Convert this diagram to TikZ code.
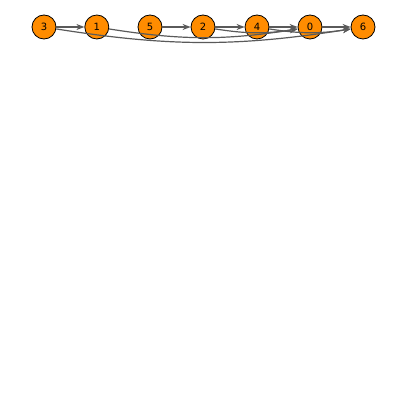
\documentclass[tikz,border=0pt]{standalone}
\usepackage{fontspec}
\setmainfont{DejaVu Sans}
\usetikzlibrary{arrows.meta, positioning}
\definecolor{NodeOrange}{RGB}{255, 140, 0}
\definecolor{EdgeGray}{RGB}{90, 90, 90}
\tikzset{
  vertex/.style={circle, draw=black, thick, fill=NodeOrange, minimum size=24pt, inner sep=0pt, font=\fontsize{10}{12}\selectfont},
  edge/.style={-{Stealth[length=8pt, width=6pt]}, EdgeGray, line width=1.2pt}
}
\begin{document}
\begin{tikzpicture}[x=1pt, y=1pt]
        \useasboundingbox (0,0) rectangle (407,405);
        \node[vertex] (n3) at (44,378) {3};
        \node[vertex, right=28pt of n3] (n1) {1};
        \node[vertex] (n5) at (150,378) {5};
        \node[vertex] (n2) at (203,378) {2};
        \node[vertex] (n4) at (257,378) {4};
        \node[vertex] (n0) at (310,378) {0};
        \node[vertex] (n6) at (363,378) {6};
        \draw[edge] (n3) -- (n1);
        \draw[edge] (n5) -- (n2);
        \draw[edge] (n2) -- (n4);
        \draw[edge] (n4) -- (n0);
        \draw[edge] (n0) -- (n6);
        \draw[edge] (n3) to[bend right=9] (n6);
        \draw[edge] (n1) to[bend right=9] (n0);
        \draw[edge] (n2) to[bend right=9] (n0);
        \draw[edge] (n4) to[bend right=9] (n6);
    \end{tikzpicture}
\end{document}
